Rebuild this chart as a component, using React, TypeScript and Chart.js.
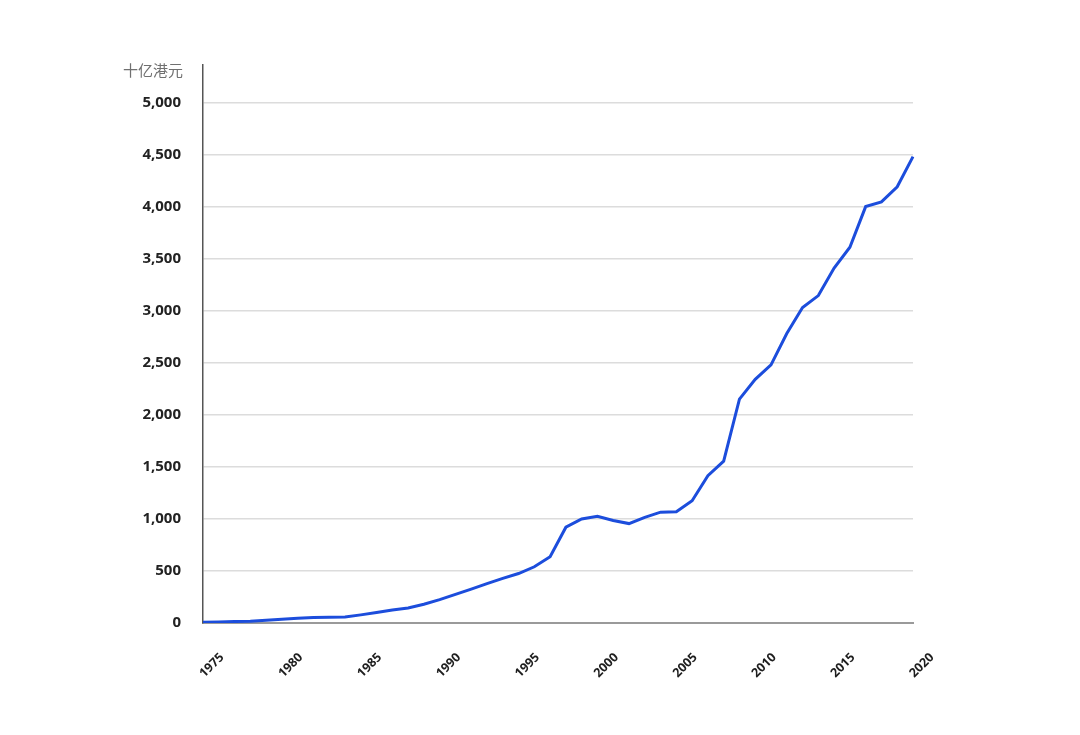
import React, { useEffect, useRef } from 'react';
import { Chart, registerables } from 'chart.js';

Chart.register(...registerables);

const years = [
  1975, 1976, 1977, 1978, 1979, 1980, 1981, 1982, 1983, 1984,
  1985, 1986, 1987, 1988, 1989, 1990, 1991, 1992, 1993, 1994,
  1995, 1996, 1997, 1998, 1999, 2000, 2001, 2002, 2003, 2004,
  2005, 2006, 2007, 2008, 2009, 2010, 2011, 2012, 2013, 2014,
  2015, 2016, 2017, 2018, 2019, 2020,
];

const values = [
  8, 10, 14, 18, 26, 36, 45, 52, 55, 58,
  78, 100, 125, 145, 180, 225, 275, 325, 378, 428,
  475, 540, 636, 920, 1000, 1025, 985, 955, 1015, 1065,
  1068, 1175, 1415, 1555, 2150, 2340, 2480, 2780, 3030, 3145,
  3410, 3610, 4000, 4045, 4190, 4480,
];

const yTickValues = [0, 500, 1000, 1500, 2000, 2500, 3000, 3500, 4000, 4500, 5000];
const xLabelYears = [1975, 1980, 1985, 1990, 1995, 2000, 2005, 2010, 2015, 2020];
const unitLabel = '十亿港元';

export default function App() {
  const ref = useRef<HTMLCanvasElement>(null);

  useEffect(() => {
    if (!ref.current) return;
    const unitPlugin = {
      id: 'unitLabel',
      afterDraw(chart: any) {
        const ctx = chart.ctx;
        ctx.save();
        ctx.font = '15px "Noto Sans CJK SC"';
        ctx.fillStyle = '#707070';
        ctx.textAlign = 'right';
        ctx.textBaseline = 'middle';
        ctx.fillText(unitLabel, chart.chartArea.left - 20, 70);
        ctx.restore();
      },
    };

    const chart = new Chart(ref.current, {
      type: 'line',
      data: {
        labels: years.map(String),
        datasets: [
          {
            data: values,
            borderColor: '#1c4ddc',
            borderWidth: 3,
            pointRadius: 0,
            tension: 0,
            fill: false,
          },
        ],
      },
      options: {
        animation: false,
        responsive: false,
        layout: { padding: { top: 65, left: 0, right: 167, bottom: 42 } },
        plugins: { legend: { display: false }, tooltip: { enabled: false } },
        scales: {
          x: {
            grid: { display: false, drawTicks: false },
            border: { color: '#9a9a9a', width: 2 },
            ticks: {
              autoSkip: false,
              maxRotation: 45,
              minRotation: 45,
              labelOffset: 19,
              padding: 27,
              color: '#1e1e1e',
              font: { family: '"Open Sans", sans-serif', size: 12.5, weight: 'bold' },
              callback: (_v: any, idx: number) =>
                xLabelYears.includes(years[idx]) ? String(years[idx]) : '',
            },
            afterFit: (s: any) => {
              s.height = 70;
            },
          },
          y: {
            min: 0,
            max: 5360,
            afterBuildTicks: (s: any) => {
              s.ticks = yTickValues.map((v) => ({ value: v }));
            },
            grid: {
              drawTicks: false,
              lineWidth: 1.5,
              color: (c: any) => (c.tick && c.tick.value === 0 ? 'rgba(0,0,0,0)' : '#dcdcdc'),
            },
            border: { color: '#555555', width: 1.5 },
            ticks: {
              padding: 22,
              color: '#222222',
              font: { family: '"Open Sans", sans-serif', size: 15, weight: 'bold' },
              callback: (v: any) => Number(v).toLocaleString('en-US'),
            },
            afterFit: (s: any) => {
              s.width = 203;
            },
          },
        },
      },
      plugins: [unitPlugin],
    });
    return () => chart.destroy();
  }, []);

  return (
    <div style={{ position: 'fixed', left: 0, top: 0, width: 1080, height: 735, background: '#fff' }}>
      <canvas ref={ref} width={1080} height={735} style={{ display: 'block' }} />
    </div>
  );
}
